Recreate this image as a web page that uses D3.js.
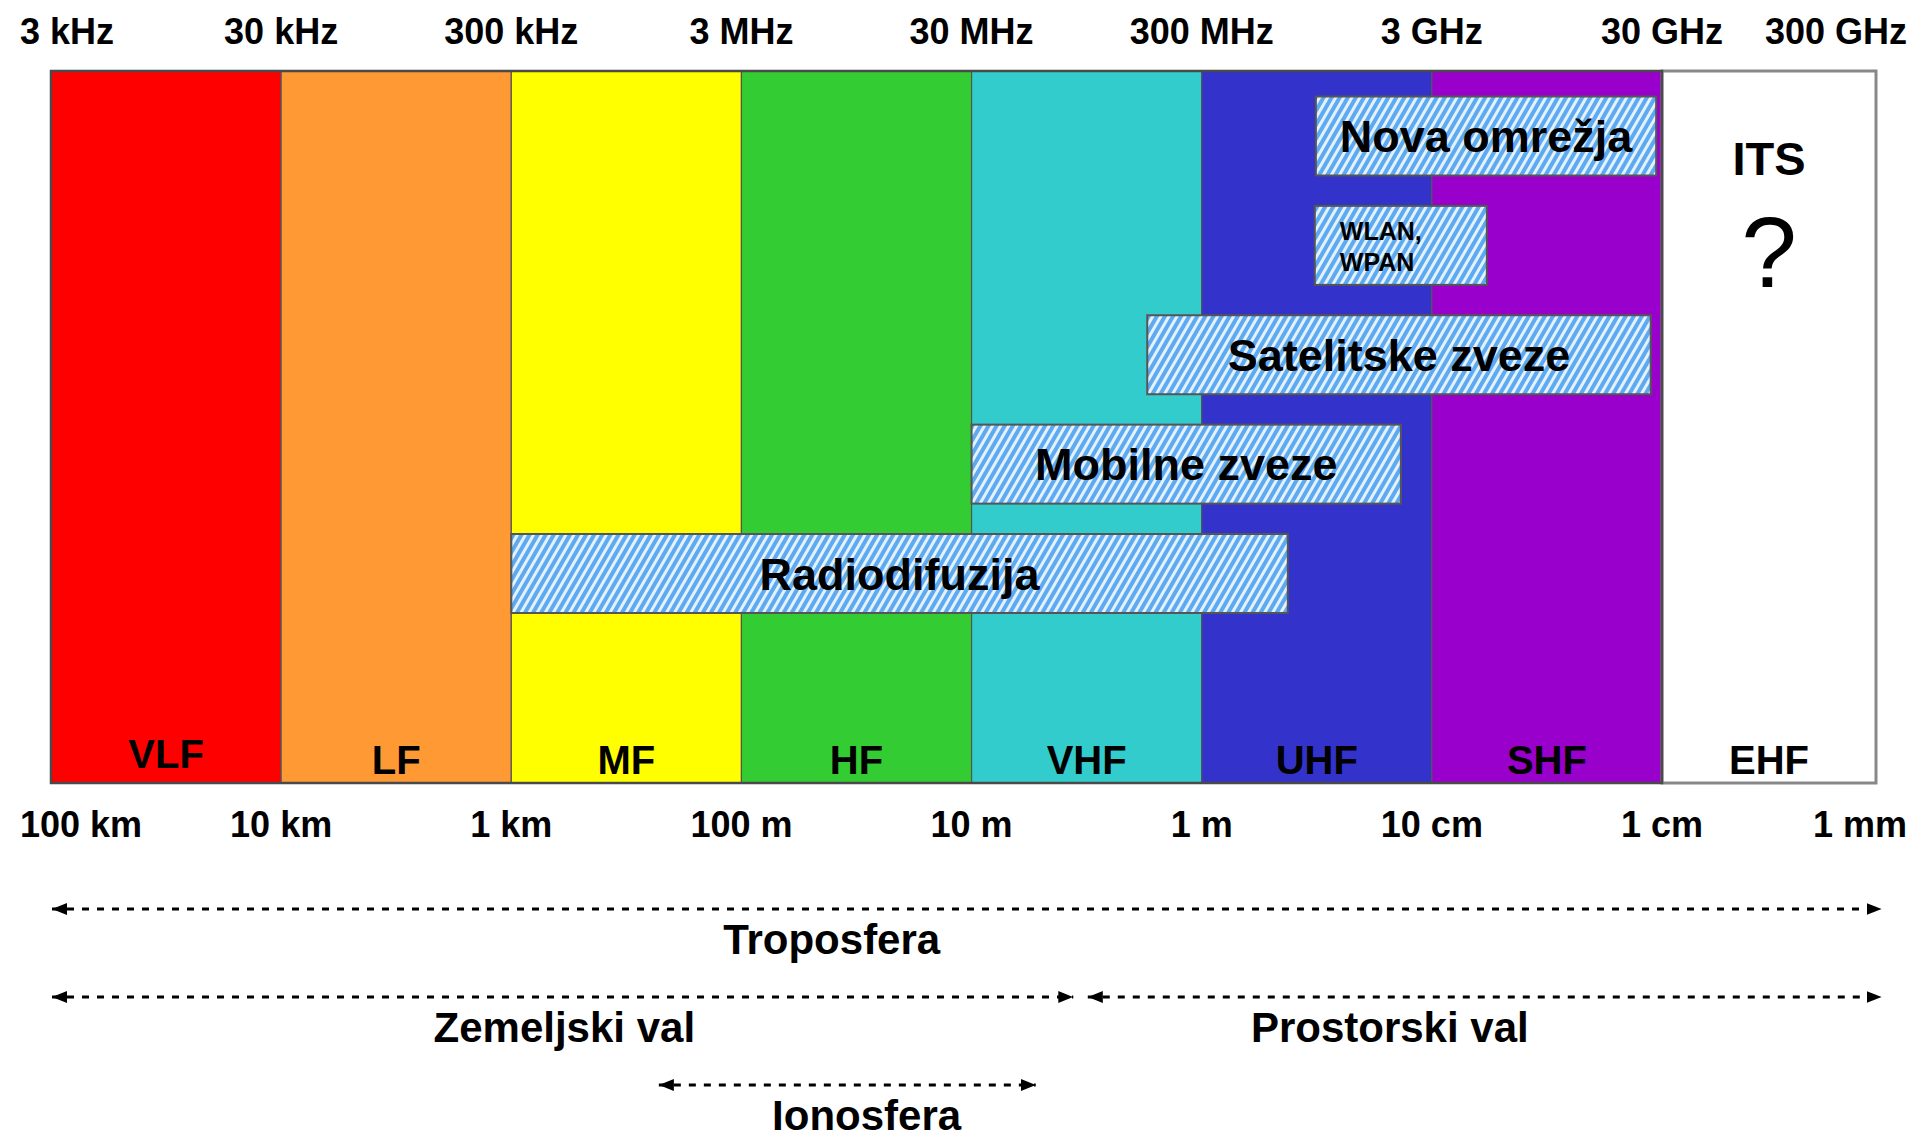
<!DOCTYPE html>
<html>
<head>
<meta charset="utf-8">
<script src="https://cdn.jsdelivr.net/npm/d3@7"></script>
<style>
  body { margin: 0; background: #fff; }
  svg { display: block; font-family: "Liberation Sans", Arial, sans-serif; }
  .lbl { font-weight: bold; fill: #000; }
</style>
</head>
<body>
<svg width="1915" height="1139"></svg>
<script>
// frequency bands
var bandNames = ["VLF", "LF", "MF", "HF", "VHF", "UHF", "SHF", "EHF"];
var bandColors = ["#ff0000", "#ff9933", "#ffff00", "#33cc33", "#33cccc", "#3333cc", "#9900cc", "#ffffff"];
var bandEdges = [3e3, 3e4, 3e5, 3e6, 3e7, 3e8, 3e9, 3e10, 3e11];

// axis labels (top: frequency, bottom: wavelength)
var freqLabels = ["3 kHz", "30 kHz", "300 kHz", "3 MHz", "30 MHz", "300 MHz", "3 GHz", "30 GHz", "300 GHz"];
var waveLabels = ["100 km", "10 km", "1 km", "100 m", "10 m", "1 m", "10 cm", "1 cm", "1 mm"];

// services (hatched boxes)
var appNames = ["Radiodifuzija", "Mobilne zveze", "Satelitske zveze", "WLAN, WPAN", "Nova omrežja"];
var appFrom = [3e5, 3e7, 1.74e8, 9.3e8, 9.4e8];
var appTo = [7.1e8, 2.2e9, 2.68e10, 5.2e9, 2.83e10];
var appRow = [0, 1, 2, 3, 4];

// propagation ranges (dotted arrows)
var propNames = ["Troposfera", "Zemeljski val", "Prostorski val", "Ionosfera"];
var propFrom = [3e3, 3e3, 9.5e7, 1.3e6];
var propTo = [2.7e11, 8.3e7, 2.7e11, 5.7e7];
var propRow = [0, 1, 1, 2];
var propLabelAt = [7.4e6, 5.1e5, 1.97e9, 1.05e7];

var svg = d3.select("svg"),
    W = +svg.attr("width"),
    bandTop = 71, bandBottom = 783;

var x = d3.scaleLog().domain([3e3, 3e10]).range([51, 1662]);
var yRow = d3.scaleLinear().domain([0, 4]).range([534, 96.5]);
var yProp = d3.scaleLinear().domain([0, 2]).range([909, 1085]);
var boxH = 79;

// EHF box is cut short before the right edge
function bx(f) { return Math.min(x(f), W - 39); }

var defs = svg.append("defs");
var hatch = defs.append("pattern")
    .attr("id", "hatch")
    .attr("width", 7).attr("height", 7)
    .attr("patternUnits", "userSpaceOnUse")
    .attr("patternTransform", "rotate(30)");
hatch.append("rect").attr("width", 7).attr("height", 7).attr("fill", "#5eaaf0");
hatch.append("rect").attr("width", 3).attr("height", 7).attr("fill", "#e4f2ff");

defs.append("marker")
    .attr("id", "arr")
    .attr("viewBox", "0 0 15 12")
    .attr("refX", 15).attr("refY", 6)
    .attr("markerWidth", 15).attr("markerHeight", 12)
    .attr("markerUnits", "userSpaceOnUse")
    .attr("orient", "auto-start-reverse")
  .append("path")
    .attr("d", "M0,0L15,6L0,12Z")
    .attr("fill", "#000");

// bands
var bands = bandNames.map(function (n, i) {
    return { name: n, color: bandColors[i], lo: bandEdges[i], hi: bandEdges[i + 1] };
});

var bandG = svg.append("g");
bandG.selectAll("rect")
    .data(bands)
    .enter().append("rect")
    .attr("x", function (d) { return bx(d.lo); })
    .attr("y", bandTop)
    .attr("width", function (d) { return bx(d.hi) - bx(d.lo); })
    .attr("height", bandBottom - bandTop)
    .attr("fill", function (d) { return d.color; })
    .attr("stroke", function (d) { return d.name == "EHF" ? "#888" : "#555"; })
    .attr("stroke-width", function (d) { return d.name == "EHF" ? 3 : 1.2; });

// outline round the coloured part
bandG.append("rect")
    .attr("x", x(3e3)).attr("y", bandTop)
    .attr("width", x(3e10) - x(3e3)).attr("height", bandBottom - bandTop)
    .attr("fill", "none")
    .attr("stroke", "#4a4a4a")
    .attr("stroke-width", 2.5);

bandG.selectAll("text")
    .data(bands)
    .enter().append("text")
    .attr("class", "lbl")
    .attr("x", function (d) { return (bx(d.lo) + bx(d.hi)) / 2; })
    .attr("y", function (d) { return d.name == "VLF" ? 768 : 774; })
    .attr("text-anchor", "middle")
    .style("font-size", "40px")
    .text(function (d) { return d.name; });

// ITS ?
var ehf = bands[7], ehfMid = (bx(ehf.lo) + bx(ehf.hi)) / 2;
svg.append("text").attr("class", "lbl")
    .attr("x", ehfMid).attr("y", 175)
    .attr("text-anchor", "middle")
    .style("font-size", "47px")
    .text("ITS");
svg.append("text")
    .attr("x", ehfMid).attr("y", 287)
    .attr("text-anchor", "middle")
    .style("font-size", "100px")
    .text("?");

// tick labels, kept inside the picture
function tickLabels(labels, y) {
    svg.append("g").selectAll("text")
        .data(labels)
        .enter().append("text")
        .attr("class", "lbl")
        .attr("y", y)
        .attr("text-anchor", "middle")
        .style("font-size", "36px")
        .text(function (d) { return d; })
        .attr("x", function (d, i) {
            var w = this.getComputedTextLength(),
                cx = x(bandEdges[i]);
            return Math.max(20 + w / 2, Math.min(W - 8 - w / 2, cx));
        });
}
tickLabels(freqLabels, 44);
tickLabels(waveLabels, 837);

// services
var apps = appNames.map(function (n, i) {
    return { name: n, lo: appFrom[i], hi: appTo[i], row: appRow[i] };
});
var appG = svg.append("g").selectAll("g")
    .data(apps)
    .enter().append("g");

appG.append("rect")
    .attr("x", function (d) { return x(d.lo); })
    .attr("y", function (d) { return yRow(d.row); })
    .attr("width", function (d) { return x(d.hi) - x(d.lo); })
    .attr("height", boxH)
    .attr("fill", "url(#hatch)")
    .attr("stroke", "#555")
    .attr("stroke-width", 2);

appG.filter(function (d) { return d.name.indexOf(",") < 0; })
    .append("text")
    .attr("class", "lbl")
    .attr("x", function (d) { return (x(d.lo) + x(d.hi)) / 2; })
    .attr("y", function (d) { return yRow(d.row) + boxH / 2 + 16; })
    .attr("text-anchor", "middle")
    .style("font-size", "45px")
    .text(function (d) { return d.name; });

appG.filter(function (d) { return d.name.indexOf(",") >= 0; })
    .append("text")
    .attr("class", "lbl")
    .style("font-size", "25px")
    .selectAll("tspan")
    .data(function (d) {
        return d.name.split(" ").map(function (s, k) { return { s: s, k: k, d: d }; });
    })
    .enter().append("tspan")
    .attr("x", function (t) { return x(t.d.lo) + 25; })
    .attr("y", function (t) { return yRow(t.d.row) + 34 + t.k * 31; })
    .text(function (t) { return t.s; });

// propagation arrows
var props = propNames.map(function (n, i) {
    return { name: n, lo: propFrom[i], hi: propTo[i], row: propRow[i], at: propLabelAt[i] };
});
var propG = svg.append("g").selectAll("g")
    .data(props)
    .enter().append("g");

propG.append("line")
    .attr("x1", function (d) { return x(d.lo) + 1; })
    .attr("x2", function (d) { return x(d.hi); })
    .attr("y1", function (d) { return yProp(d.row); })
    .attr("y2", function (d) { return yProp(d.row); })
    .attr("stroke", "#000")
    .attr("stroke-width", 3)
    .attr("stroke-dasharray", "7,8")
    .attr("marker-start", "url(#arr)")
    .attr("marker-end", "url(#arr)");

propG.append("text")
    .attr("class", "lbl")
    .attr("x", function (d) { return x(d.at); })
    .attr("y", function (d) { return yProp(d.row) + 45; })
    .attr("text-anchor", "middle")
    .style("font-size", "42px")
    .text(function (d) { return d.name; });
</script>
</body>
</html>
